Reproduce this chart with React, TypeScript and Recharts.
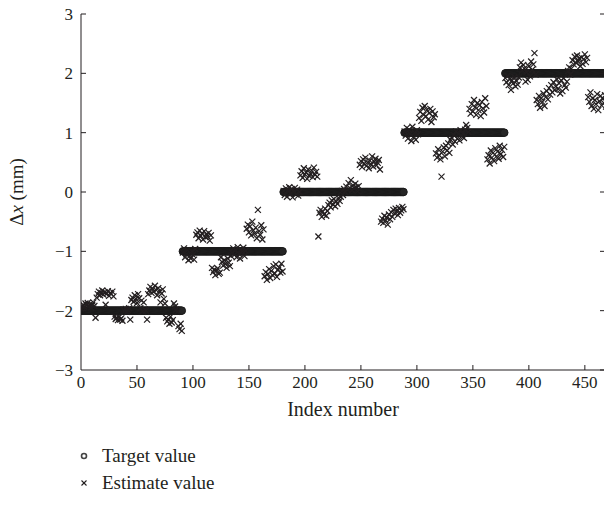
import React from 'react';
import { ScatterChart, Scatter, XAxis, YAxis } from 'recharts';

const xTicks = [0, 50, 100, 150, 200, 250, 300, 350, 400, 450];
const yTicks = [-3, -2, -1, 0, 1, 2, 3];

// target is a step signal: level held from start index to end index
const targetLevels = [-2, -1, 0, 1, 2];
const targetStart = [0, 91, 181, 289, 379];
const targetEnd = [90, 180, 288, 378, 470];

// estimates, one list per step, starting at that step's start index
const estimateSeg1 = [
  -1.96, -1.93, -1.9, -1.94, -1.88, -1.91, -1.87, -1.92, -1.89, -1.95,
  -1.9, -1.86, -1.92, -2.12, -1.78, -1.72, -1.68, -1.74, -1.7, -1.66,
  -1.73, -1.69, -1.9, -1.71, -1.67, -1.75, -1.7, -1.72, -1.68, -1.76,
  -2.1, -2.14, -2.12, -2.16, -2.11, -2.15, -2.13, -2.17, -1.98, -2.01,
  -1.97, -2.02, -1.99, -1.96, -2.15, -1.82, -1.78, -1.85, -1.74, -1.8,
  -1.87, -1.72, -1.79, -1.96, -1.83, -2.01, -1.86, -1.98, -2.0, -2.15,
  -1.72, -1.66, -1.6, -1.7, -1.63, -1.68, -1.58, -1.65, -1.74, -1.62,
  -1.67, -1.86, -1.71, -1.64, -1.8, -1.88, -2.12, -2.18, -2.15, -2.22,
  -2.1, -2.2, -2.16, -1.88, -1.93, -1.98, -2.02, -2.26, -2.31, -2.22,
  -2.34,
];
const estimateSeg2 = [
  -1.02, -0.95, -1.1, -1.05, -0.98, -1.15, -1.08, -1.12, -1.0, -1.06,
  -1.14, -0.96, -0.72, -0.68, -0.78, -0.65, -0.74, -0.7, -0.8, -0.66,
  -0.76, -0.71, -0.75, -0.69, -0.82, -0.73, -1.28, -1.35, -1.31, -1.4,
  -1.33, -1.29, -1.38, -1.36, -1.1, -1.18, -1.24, -1.15, -1.21, -1.28,
  -1.12, -1.19, -1.25, -1.08, -1.02, -0.95, -1.06, -0.98, -1.1, -0.93,
  -1.04, -1.12, -0.97, -1.01, -0.94, -1.08, -0.99, -0.62, -0.55, -0.68,
  -0.58, -0.73, -0.5, -0.65, -0.7, -0.6, -0.78, -0.3, -0.66, -0.72,
  -0.56, -0.8, -0.63, -1.42, -1.35, -1.48, -1.38, -1.3, -1.45, -1.33,
  -1.4, -1.25, -1.37, -1.22, -1.43, -1.31, -1.27, -1.36, -1.21, -1.34,
];
const estimateSeg3 = [
  0.02, -0.05, 0.06, -0.08, 0.03, 0.08, -0.03, 0.05, -0.09, 0.01,
  0.07, -0.04, 0.04, -0.06, 0.0, 0.28, 0.35, 0.24, 0.4, 0.3,
  0.33, 0.22, 0.38, 0.27, 0.31, 0.36, 0.25, 0.41, 0.29, 0.34,
  0.26, -0.75, -0.35, -0.3, -0.42, -0.33, -0.38, -0.28, -0.4, -0.32,
  -0.22, -0.18, -0.26, -0.14, -0.21, -0.12, -0.24, -0.16, -0.2, -0.1,
  -0.15, -0.08, 0.02, -0.05, 0.05, 0.0, 0.09, 0.04, 0.15, 0.07,
  0.2, 0.03, 0.11, 0.06, 0.14, 0.08, 0.01, 0.1, 0.46, 0.52,
  0.42, 0.55, 0.48, 0.58, 0.44, 0.5, 0.4, 0.53, 0.47, 0.6,
  0.43, 0.51, 0.56, 0.45, 0.49, 0.54, 0.38, -0.5, -0.45, -0.52,
  -0.4, -0.48, -0.43, -0.55, -0.38, -0.46, -0.34, -0.42, -0.3, -0.36,
  -0.28, -0.33, -0.39, -0.27, -0.35, -0.31, -0.25, -0.29,
];
const estimateSeg4 = [
  1.02, 0.95, 1.08, 0.9, 1.05, 0.98, 0.86, 1.1, 0.93, 1.0,
  0.88, 1.04, 0.97, 1.25, 1.35, 1.2, 1.42, 1.3, 1.45, 1.28,
  1.38, 1.22, 1.33, 1.4, 1.18, 1.36, 1.26, 1.31, 0.65, 0.58,
  0.72, 0.62, 0.55, 0.26, 0.68, 0.75, 0.6, 0.78, 0.7, 0.82,
  0.66, 0.88, 0.92, 0.8, 0.96, 0.85, 1.02, 0.9, 0.98, 0.87,
  1.04, 0.94, 0.99, 0.91, 1.05, 1.13, 1.08, 1.01, 1.4, 1.32,
  1.48, 1.36, 1.55, 1.43, 1.3, 1.5, 1.38, 1.46, 1.28, 1.52,
  1.41, 1.34, 1.58, 1.45, 0.55, 0.62, 0.48, 0.7, 0.58, 0.66,
  0.52, 0.74, 0.6, 0.68, 0.56, 0.78, 0.64, 0.71, 0.59, 0.76,
];
const estimateSeg5 = [
  1.92, 1.85, 1.96, 1.8, 1.9, 1.72, 1.88, 1.83, 1.94, 1.78,
  1.87, 1.81, 1.93, 2.1, 2.18, 2.05, 2.14, 2.08, 1.86, 2.02,
  1.89, 2.12, 1.95, 2.2, 2.06, 2.15, 2.34, 1.98, 1.55, 1.48,
  1.62, 1.42, 1.58, 1.52, 1.66, 1.45, 1.6, 1.7, 1.56, 1.75,
  1.64, 1.8, 1.68, 1.85, 1.72, 1.78, 1.9, 1.74, 1.83, 1.66,
  1.88, 1.7, 1.92, 1.8, 1.76, 1.86, 2.04, 2.1, 1.98, 2.08,
  2.22, 2.15, 2.28, 2.18, 2.3, 2.2, 2.25, 2.12, 2.27, 2.16,
  2.24, 2.32, 2.19, 2.26, 1.6, 1.52, 1.68, 1.45, 1.58, 1.4,
  1.55, 1.48, 1.65, 1.38, 1.53, 1.62, 1.46, 1.57, 1.5, 1.63,
  1.44, 1.56,
];

const estimateSegs = [estimateSeg1, estimateSeg2, estimateSeg3, estimateSeg4, estimateSeg5];

const targetData: { x: number; y: number }[] = [];
targetLevels.forEach((level, s) => {
  for (let i = targetStart[s]; i <= targetEnd[s]; i++) targetData.push({ x: i, y: level });
});

const estimateData: { x: number; y: number }[] = [];
estimateSegs.forEach((vals, s) => {
  vals.forEach((v, k) => estimateData.push({ x: targetStart[s] + k, y: v }));
});

const INK = '#231f20';
const FONT = '"Liberation Serif", "DejaVu Serif", serif';

const fmt = (v: number) => (v < 0 ? '\u2212' + Math.abs(v) : String(v));

const TargetDot = (props: any) => (
  <circle cx={props.cx} cy={props.cy} r={3.8} fill="#262626" stroke="#1a1a1a" strokeWidth={1} />
);

const Cross = (props: any) => {
  const { cx, cy } = props;
  const s = 3;
  return (
    <g stroke={INK} strokeWidth={1.2}>
      <line x1={cx - s} y1={cy - s} x2={cx + s} y2={cy + s} />
      <line x1={cx - s} y1={cy + s} x2={cx + s} y2={cy - s} />
    </g>
  );
};

const XTick = (props: any) => {
  const { x, y, payload } = props;
  const axisY = y - 6;
  return (
    <g>
      {payload.value !== 0 && <line x1={x} x2={x} y1={axisY} y2={axisY - 5} stroke={INK} />}
      <text x={x} y={y} dy={12} textAnchor="middle" fill={INK} fontSize={17} fontFamily={FONT}>
        {fmt(payload.value)}
      </text>
    </g>
  );
};

const YTick = (props: any) => {
  const { x, y, payload } = props;
  const axisX = x + 8;
  return (
    <g>
      {payload.value !== -3 && <line x1={axisX} x2={axisX + 5} y1={y} y2={y} stroke={INK} />}
      <text x={x} y={y} dy={6} textAnchor="end" fill={INK} fontSize={17} fontFamily={FONT}>
        {fmt(payload.value)}
      </text>
    </g>
  );
};

const RightTick = (props: any) => {
  const { x, y } = props;
  return <line x1={x - 5} x2={x} y1={y} y2={y} stroke={INK} />;
};

const YLabel = () => (
  <text
    transform="translate(23,192) rotate(-90)"
    textAnchor="middle"
    fill={INK}
    fontSize={19}
    fontFamily={FONT}
  >
    {'\u0394'}
    <tspan fontStyle="italic">x</tspan>
    {' (mm)'}
  </text>
);

const App: React.FC = () => {
  return (
    <div style={{ position: 'absolute', left: 0, top: 0, width: 604, height: 509, overflow: 'hidden', background: '#fff' }}>
      <ScatterChart width={640} height={509} margin={{ top: 14, right: 15, bottom: 99, left: 0 }}>
        <XAxis
          dataKey="x"
          type="number"
          domain={[0, 468]}
          ticks={xTicks}
          allowDataOverflow
          stroke={INK}
          tickSize={0}
          tickMargin={6}
          tickLine={false}
          tick={<XTick />}
          height={40}
          label={{ value: 'Index number', position: 'insideBottom', offset: -6, fill: INK, fontSize: 20, fontFamily: FONT }}
        />
        <YAxis
          dataKey="y"
          type="number"
          domain={[-3, 3]}
          ticks={yTicks}
          allowDataOverflow
          stroke={INK}
          width={81}
          tickSize={0}
          tickMargin={8}
          tickLine={false}
          tick={<YTick />}
          label={YLabel}
        />
        <YAxis
          yAxisId="right"
          orientation="right"
          type="number"
          domain={[-3, 3]}
          ticks={yTicks}
          allowDataOverflow
          axisLine={false}
          tickLine={false}
          tickSize={0}
          tickMargin={0}
          width={20}
          tick={<RightTick />}
        />
        <Scatter data={targetData} shape={<TargetDot />} isAnimationActive={false} />
        <Scatter data={estimateData} shape={<Cross />} isAnimationActive={false} />
      </ScatterChart>
      <div style={{ position: 'absolute', left: 78, top: 442, fontFamily: FONT, fontSize: 19, color: INK, lineHeight: '27px' }}>
        <div style={{ display: 'flex', alignItems: 'center' }}>
          <svg width={12} height={12} style={{ marginRight: 12 }}>
            <circle cx={6} cy={6} r={2.5} fill="#fff" stroke="#444" strokeWidth={1.6} />
          </svg>
          Target value
        </div>
        <div style={{ display: 'flex', alignItems: 'center' }}>
          <svg width={12} height={12} style={{ marginRight: 12 }}>
            <g stroke={INK} strokeWidth={1.1}>
              <line x1={3.5} y1={3.5} x2={8.5} y2={8.5} />
              <line x1={3.5} y1={8.5} x2={8.5} y2={3.5} />
            </g>
          </svg>
          Estimate value
        </div>
      </div>
    </div>
  );
};

export default App;
